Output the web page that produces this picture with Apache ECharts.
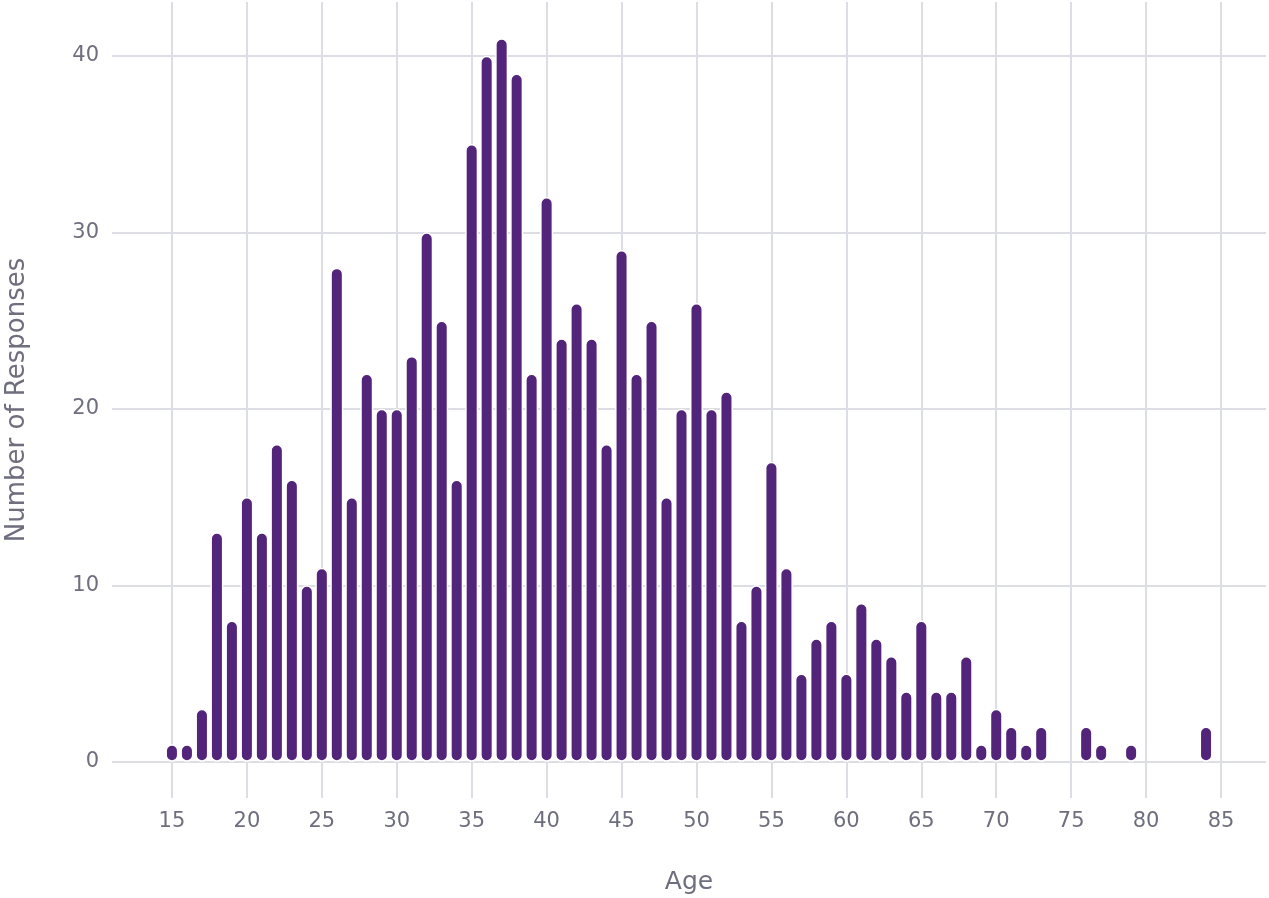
<!DOCTYPE html>
<html>
<head>
<meta charset="utf-8">
<title>Age of respondents</title>
<script src="https://cdn.jsdelivr.net/npm/echarts@6/dist/echarts.min.js"></script>
<style>
  html, body { margin: 0; padding: 0; background: #fff; }
  #chart { width: 1269px; height: 898px; }
</style>
</head>
<body>
<div id="chart"></div>
<script>
// ages that got at least one response, and how many
const ages = [
  15, 16, 17, 18, 19, 20, 21, 22, 23, 24, 25, 26, 27, 28, 29, 30, 31, 32, 33, 34,
  35, 36, 37, 38, 39, 40, 41, 42, 43, 44, 45, 46, 47, 48, 49, 50, 51, 52, 53, 54,
  55, 56, 57, 58, 59, 60, 61, 62, 63, 64, 65, 66, 67, 68, 69, 70, 71, 72, 73,
  76, 77, 79, 84
];
const responses = [
  1, 1, 3, 13, 8, 15, 13, 18, 16, 10, 11, 28, 15, 22, 20, 20, 23, 30, 25, 16,
  35, 40, 41, 39, 22, 32, 24, 26, 24, 18, 29, 22, 25, 15, 20, 26, 20, 21, 8, 10,
  17, 11, 5, 7, 8, 5, 9, 7, 6, 4, 8, 4, 4, 6, 1, 3, 2, 1, 2,
  2, 1, 1, 2
];
const xTicks = [15, 20, 25, 30, 35, 40, 45, 50, 55, 60, 65, 70, 75, 80, 85];
const yTicks = [0, 10, 20, 30, 40];

const textColor = "#6e6e7e";
const gridColor = "#dddde6";
const barColor = "#52247a";
const font = "'DejaVu Sans', sans-serif";

const chart = echarts.init(document.getElementById("chart"));

chart.setOption({
  animation: false,
  backgroundColor: "#fff",
  textStyle: { fontFamily: font },
  grid: {
    left: 112, right: 3, top: 2, bottom: 100,
    containLabel: false,
    outerBoundsMode: "none",
  },
  xAxis: {
    type: "value",
    min: 11,
    max: 88,
    name: "Age",
    nameLocation: "middle",
    nameGap: 72,
    nameTextStyle: { color: textColor, fontSize: 25, fontFamily: font },
    axisLine: { show: false },
    axisTick: { show: false, customValues: xTicks },
    axisLabel: {
      customValues: xTicks,
      color: textColor,
      fontSize: 21,
      margin: 13,
      fontFamily: font,
    },
    splitLine: { show: true, lineStyle: { color: gridColor, width: 2 } },
  },
  yAxis: {
    type: "value",
    min: -2.05,
    max: 43.05,
    name: "Number of Responses",
    nameLocation: "middle",
    nameGap: 82,
    nameTextStyle: { color: textColor, fontSize: 26, fontFamily: font },
    axisLine: { show: false },
    axisTick: { show: false, customValues: yTicks },
    axisLabel: {
      customValues: yTicks,
      color: textColor,
      fontSize: 21,
      margin: 13,
      fontFamily: font,
    },
    splitLine: { show: true, lineStyle: { color: gridColor, width: 2 } },
  },
  series: [
    {
      type: "bar",
      data: ages.map((a, i) => [a, responses[i]]),
      barWidth: 13,
      itemStyle: {
        color: barColor,
        borderColor: "#ffffff",
        borderWidth: 1.5,
        borderRadius: 6.5,
      },
    },
  ],
});
</script>
</body>
</html>
